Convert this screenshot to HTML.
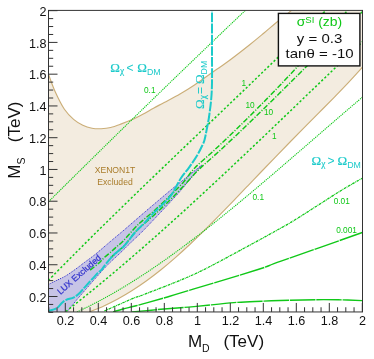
<!DOCTYPE html>
<html><head><meta charset="utf-8"><title>chart</title>
<style>
html,body{margin:0;padding:0;background:#fff;}
body{width:374px;height:359px;overflow:hidden;position:relative;font-family:"Liberation Sans",sans-serif;}
</style></head><body>
<svg width="374" height="359" viewBox="0 0 374 359" style="display:block;position:absolute;left:0;top:0;will-change:transform;opacity:0.999">
<rect x="0" y="0" width="374" height="359" fill="#fff"/>
<defs><clipPath id="fr"><rect x="48.50" y="10.40" width="314.00" height="301.55"/></clipPath></defs>
<g clip-path="url(#fr)">
<path d="M48.50,74.30 C49.62,77.22 52.55,85.97 55.20,91.80 C57.85,97.63 61.33,104.70 64.40,109.30 C67.47,113.90 70.53,116.73 73.60,119.40 C76.67,122.07 79.73,123.83 82.80,125.30 C85.87,126.77 88.93,127.63 92.00,128.20 C95.07,128.77 98.08,128.82 101.20,128.70 C104.32,128.58 107.33,128.30 110.70,127.50 C114.07,126.70 117.83,125.22 121.40,123.90 C124.97,122.58 128.53,121.22 132.10,119.60 C135.67,117.98 139.23,116.10 142.80,114.20 C146.37,112.30 149.93,110.15 153.50,108.20 C157.07,106.25 159.78,104.87 164.20,102.50 C168.62,100.13 174.95,96.92 180.00,94.00 C185.05,91.08 188.37,89.12 194.50,85.00 C200.63,80.88 210.88,73.47 216.80,69.30 C222.72,65.13 224.47,64.13 230.00,60.00 C235.53,55.87 244.33,49.00 250.00,44.50 C255.67,40.00 259.50,36.75 264.00,33.00 C268.50,29.25 272.33,25.83 277.00,22.00 C281.67,18.17 289.50,12.00 292.00,10.00 L362.50,10.40 L362.50,67.00 L362.50,67.17 C360.10,69.79 352.90,77.76 348.11,82.87 C343.31,87.97 338.51,92.89 333.71,97.81 C328.91,102.73 324.11,107.54 319.32,112.39 C314.52,117.24 309.72,122.05 304.92,126.90 C300.12,131.75 295.32,136.60 290.53,141.50 C285.73,146.40 280.93,151.33 276.13,156.28 C271.33,161.23 266.54,166.23 261.74,171.23 C256.94,176.23 252.14,181.27 247.34,186.28 C242.54,191.30 237.75,196.33 232.95,201.31 C228.15,206.29 223.35,211.27 218.55,216.16 C213.75,221.05 208.96,225.91 204.16,230.64 C199.36,235.37 194.56,240.03 189.76,244.53 C184.96,249.04 180.17,253.44 175.37,257.65 C170.57,261.87 165.77,265.94 160.97,269.81 C156.18,273.67 151.38,277.36 146.58,280.83 C141.78,284.30 136.98,287.56 132.18,290.60 C127.39,293.64 122.59,296.46 117.79,299.06 C112.99,301.65 108.19,304.02 103.39,306.19 C98.60,308.36 91.40,311.11 89.00,312.09 L48.50,311.95 Z" fill="#f3ece0" stroke="none"/>
<path d="M48.50,74.30 C49.62,77.22 52.55,85.97 55.20,91.80 C57.85,97.63 61.33,104.70 64.40,109.30 C67.47,113.90 70.53,116.73 73.60,119.40 C76.67,122.07 79.73,123.83 82.80,125.30 C85.87,126.77 88.93,127.63 92.00,128.20 C95.07,128.77 98.08,128.82 101.20,128.70 C104.32,128.58 107.33,128.30 110.70,127.50 C114.07,126.70 117.83,125.22 121.40,123.90 C124.97,122.58 128.53,121.22 132.10,119.60 C135.67,117.98 139.23,116.10 142.80,114.20 C146.37,112.30 149.93,110.15 153.50,108.20 C157.07,106.25 159.78,104.87 164.20,102.50 C168.62,100.13 174.95,96.92 180.00,94.00 C185.05,91.08 188.37,89.12 194.50,85.00 C200.63,80.88 210.88,73.47 216.80,69.30 C222.72,65.13 224.47,64.13 230.00,60.00 C235.53,55.87 244.33,49.00 250.00,44.50 C255.67,40.00 259.50,36.75 264.00,33.00 C268.50,29.25 272.33,25.83 277.00,22.00 C281.67,18.17 289.50,12.00 292.00,10.00" fill="none" stroke="#cbae78" stroke-width="1.15"/>
<path d="M362.50,67.17 C360.10,69.79 352.90,77.76 348.11,82.87 C343.31,87.97 338.51,92.89 333.71,97.81 C328.91,102.73 324.11,107.54 319.32,112.39 C314.52,117.24 309.72,122.05 304.92,126.90 C300.12,131.75 295.32,136.60 290.53,141.50 C285.73,146.40 280.93,151.33 276.13,156.28 C271.33,161.23 266.54,166.23 261.74,171.23 C256.94,176.23 252.14,181.27 247.34,186.28 C242.54,191.30 237.75,196.33 232.95,201.31 C228.15,206.29 223.35,211.27 218.55,216.16 C213.75,221.05 208.96,225.91 204.16,230.64 C199.36,235.37 194.56,240.03 189.76,244.53 C184.96,249.04 180.17,253.44 175.37,257.65 C170.57,261.87 165.77,265.94 160.97,269.81 C156.18,273.67 151.38,277.36 146.58,280.83 C141.78,284.30 136.98,287.56 132.18,290.60 C127.39,293.64 122.59,296.46 117.79,299.06 C112.99,301.65 108.19,304.02 103.39,306.19 C98.60,308.36 91.40,311.11 89.00,312.09" fill="none" stroke="#cbae78" stroke-width="1.15"/>
<path d="M48.50,284.40 C50.07,283.63 55.17,281.13 57.90,279.80 C60.63,278.47 62.57,277.73 64.90,276.40 C67.23,275.07 69.58,273.40 71.90,271.80 C74.22,270.20 76.78,268.30 78.80,266.80 C80.82,265.30 81.28,264.85 84.00,262.80 C86.72,260.75 91.38,257.47 95.10,254.50 C98.82,251.53 103.50,247.38 106.30,245.00 C109.10,242.62 108.92,242.72 111.90,240.20 C114.88,237.68 119.28,234.10 124.20,229.90 C129.12,225.70 133.77,221.53 141.40,215.00 C149.03,208.47 162.73,196.77 170.00,190.70 C177.27,184.63 179.72,182.87 185.00,178.60 C190.28,174.33 198.92,167.35 201.70,165.10 L201.70,165.10 C199.58,167.63 193.17,175.32 189.00,180.30 C184.83,185.28 184.03,186.92 176.70,195.00 C169.37,203.08 152.50,221.02 145.00,228.80 C137.50,236.58 135.80,237.70 131.70,241.70 C127.60,245.70 124.37,248.98 120.40,252.80 C116.43,256.62 112.32,260.07 107.90,264.60 C103.48,269.13 98.55,274.77 93.90,280.00 C89.25,285.23 82.98,292.55 80.00,296.00 C77.02,299.45 78.17,298.07 76.00,300.70 C73.83,303.33 68.50,309.95 67.00,311.80 L48.50,311.95 Z" fill="#c7c4e6" stroke="none"/>
<path d="M48.50,284.40 C50.07,283.63 55.17,281.13 57.90,279.80 C60.63,278.47 62.57,277.73 64.90,276.40 C67.23,275.07 69.58,273.40 71.90,271.80 C74.22,270.20 76.78,268.30 78.80,266.80 C80.82,265.30 81.28,264.85 84.00,262.80 C86.72,260.75 91.38,257.47 95.10,254.50 C98.82,251.53 103.50,247.38 106.30,245.00 C109.10,242.62 108.92,242.72 111.90,240.20 C114.88,237.68 119.28,234.10 124.20,229.90 C129.12,225.70 133.77,221.53 141.40,215.00 C149.03,208.47 162.73,196.77 170.00,190.70 C177.27,184.63 179.72,182.87 185.00,178.60 C190.28,174.33 198.92,167.35 201.70,165.10" fill="none" stroke="#3333cc" stroke-width="1" stroke-dasharray="1.1 1.0"/>
<path d="M201.70,165.10 C199.58,167.63 193.17,175.32 189.00,180.30 C184.83,185.28 184.03,186.92 176.70,195.00 C169.37,203.08 152.50,221.02 145.00,228.80 C137.50,236.58 135.80,237.70 131.70,241.70 C127.60,245.70 124.37,248.98 120.40,252.80 C116.43,256.62 112.32,260.07 107.90,264.60 C103.48,269.13 98.55,274.77 93.90,280.00 C89.25,285.23 82.98,292.55 80.00,296.00 C77.02,299.45 78.17,298.07 76.00,300.70 C73.83,303.33 68.50,309.95 67.00,311.80" fill="none" stroke="#3333cc" stroke-width="1" stroke-dasharray="1.1 1.0"/>
<path d="M48.50,201.78 C53.20,197.12 67.31,183.12 76.71,173.84 C86.12,164.55 95.52,155.30 104.93,146.07 C114.33,136.84 123.74,127.63 133.14,118.46 C142.55,109.29 151.95,100.14 161.36,91.02 C170.76,81.91 180.17,72.82 189.57,63.76 C198.98,54.69 208.38,45.66 217.79,36.66 C227.19,27.65 241.30,14.21 246.00,9.72" fill="none" stroke="#10c818" stroke-width="1.1" stroke-dasharray="1.2 0.9"/>
<path d="M77.00,312.00 C80.66,310.18 91.63,305.00 98.95,301.12 C106.26,297.24 113.58,293.08 120.89,288.73 C128.21,284.37 135.52,279.77 142.84,274.99 C150.15,270.21 157.47,265.20 164.78,260.05 C172.10,254.89 179.42,249.54 186.73,244.06 C194.05,238.59 201.36,232.94 208.68,227.19 C215.99,221.45 223.31,215.55 230.62,209.59 C237.94,203.62 245.25,197.54 252.57,191.40 C259.88,185.27 267.20,179.04 274.52,172.80 C281.83,166.55 289.15,160.23 296.46,153.92 C303.78,147.61 311.09,141.26 318.41,134.93 C325.72,128.61 333.04,122.27 340.35,115.99 C347.67,109.71 358.64,100.36 362.30,97.24" fill="none" stroke="#10c818" stroke-width="1.1" stroke-dasharray="1.2 0.9"/>
<path d="M48.50,280.30 C52.72,276.03 65.38,263.14 73.82,254.68 C82.26,246.22 90.70,237.85 99.14,229.53 C107.58,221.21 116.02,212.97 124.45,204.76 C132.89,196.55 141.33,188.40 149.77,180.27 C158.21,172.14 166.65,164.06 175.09,155.98 C183.53,147.90 191.97,139.86 200.41,131.80 C208.85,123.74 217.29,115.70 225.73,107.64 C234.17,99.57 242.61,91.50 251.05,83.40 C259.48,75.29 267.92,67.17 276.36,58.99 C284.80,50.82 293.24,42.61 301.68,34.34 C310.12,26.06 322.78,13.50 327.00,9.33" fill="none" stroke="#10c818" stroke-width="1.5" stroke-dasharray="2.2 2.1"/>
<path d="M66.00,311.40 C69.80,308.38 81.19,299.43 88.79,293.27 C96.39,287.11 103.99,280.82 111.58,274.45 C119.18,268.07 126.78,261.59 134.38,255.02 C141.97,248.45 149.57,241.78 157.17,235.04 C164.77,228.31 172.36,221.48 179.96,214.59 C187.56,207.71 195.16,200.74 202.75,193.73 C210.35,186.72 217.95,179.64 225.55,172.53 C233.14,165.41 240.74,158.24 248.34,151.05 C255.94,143.85 263.53,136.61 271.13,129.36 C278.73,122.11 286.33,114.82 293.92,107.54 C301.52,100.25 309.12,92.94 316.72,85.64 C324.31,78.34 331.91,71.03 339.51,63.74 C347.11,56.45 358.50,45.55 362.30,41.91" fill="none" stroke="#10c818" stroke-width="1.5" stroke-dasharray="2.2 2.1"/>
<path d="M90.10,270.10 C91.50,268.98 96.18,265.45 98.50,263.40 C100.82,261.35 101.77,259.85 104.00,257.80 C106.23,255.75 109.67,253.05 111.90,251.10 C114.13,249.15 115.55,247.75 117.40,246.10 C119.25,244.45 120.07,244.26 123.00,241.20 C125.93,238.14 131.73,231.16 135.00,227.72 C138.27,224.29 139.27,223.56 142.60,220.60 C145.93,217.64 150.43,214.12 155.00,209.99 C159.57,205.86 165.33,200.38 170.00,195.82 C174.67,191.26 178.83,187.32 183.00,182.64 C187.17,177.97 189.69,173.28 195.00,167.78 C200.31,162.28 208.25,155.80 214.88,149.64 C221.50,143.47 228.12,137.19 234.75,130.79 C241.38,124.39 248.00,117.87 254.62,111.24 C261.25,104.61 267.88,97.85 274.50,90.99 C281.12,84.12 287.75,77.13 294.38,70.03 C301.00,62.93 307.62,55.71 314.25,48.37 C320.88,41.04 327.50,33.59 334.12,26.02 C340.75,18.44 350.69,6.80 354.00,2.95" fill="none" stroke="#10c818" stroke-width="1.45" stroke-dasharray="5.4 1.6 1.1 1.6"/>
<path d="M110.70,257.60 C112.92,255.63 119.95,250.01 124.00,245.80 C128.05,241.59 131.50,236.13 135.00,232.32 C138.50,228.52 141.67,225.99 145.00,222.97 C148.33,219.95 150.83,218.02 155.00,214.19 C159.17,210.37 165.00,204.98 170.00,200.02 C175.00,195.06 180.08,189.62 185.00,184.44 C189.92,179.27 193.69,174.61 199.50,168.97 C205.31,163.33 213.07,156.85 219.85,150.61 C226.63,144.36 233.42,137.97 240.20,131.52 C246.98,125.07 253.77,118.50 260.55,111.89 C267.33,105.29 274.12,98.59 280.90,91.89 C287.68,85.20 294.47,78.44 301.25,71.71 C308.03,64.97 314.82,58.21 321.60,51.50 C328.38,44.79 335.17,38.08 341.95,31.46 C348.73,24.83 358.91,15.03 362.30,11.75" fill="none" stroke="#10c818" stroke-width="1.45" stroke-dasharray="5.4 1.6 1.1 1.6"/>
<path d="M104.30,311.00 C109.25,308.83 127.38,300.75 134.00,298.00 C140.62,295.25 135.00,298.00 144.00,294.50 C153.00,291.00 175.33,282.55 188.00,277.00 C200.67,271.45 204.50,269.37 220.00,261.20 C235.50,253.03 267.67,235.42 281.00,228.00 C294.33,220.58 290.17,222.83 300.00,216.70 C309.83,210.57 329.62,197.62 340.00,191.20 C350.38,184.78 358.58,180.37 362.30,178.20" fill="none" stroke="#10c818" stroke-width="1.25" stroke-dasharray="2.6 0.7 0.9 0.7"/>
<path d="M113.00,311.90 C114.67,311.42 119.50,309.93 123.00,309.00 C126.50,308.07 129.92,307.35 134.00,306.30 C138.08,305.25 141.67,304.33 147.50,302.70 C153.33,301.07 161.25,298.80 169.00,296.50 C176.75,294.20 179.17,293.40 194.00,288.90 C208.83,284.40 243.50,274.12 258.00,269.50 C272.50,264.88 263.62,267.37 281.00,261.20 C298.38,255.03 348.75,237.28 362.30,232.50" fill="none" stroke="#10c818" stroke-width="1.4" stroke-dasharray="25.5 0.9"/>
<path d="M132.00,312.00 C134.50,311.77 142.20,311.05 147.00,310.60 C151.80,310.15 152.97,309.97 160.80,309.30 C168.63,308.63 181.80,307.72 194.00,306.60 C206.20,305.48 222.67,303.50 234.00,302.60 C245.33,301.70 252.67,301.60 262.00,301.20 C271.33,300.80 281.00,300.45 290.00,300.20 C299.00,299.95 308.00,299.77 316.00,299.70 C324.00,299.63 330.28,299.65 338.00,299.80 C345.72,299.95 358.25,300.47 362.30,300.60" fill="none" stroke="#10c818" stroke-width="1.4" stroke-dasharray="25.5 0.9"/>
<path d="M212.00,10.50 C212.00,17.08 212.03,36.75 212.00,50.00 C211.97,63.25 212.25,79.17 211.80,90.00 C211.35,100.83 210.17,108.33 209.30,115.00 C208.43,121.67 207.40,125.83 206.60,130.00 C205.80,134.17 205.18,137.50 204.50,140.00 C203.82,142.50 203.68,142.50 202.50,145.00 C201.32,147.50 199.65,151.23 197.40,155.00 C195.15,158.77 191.78,163.68 189.00,167.60 C186.22,171.52 183.87,173.65 180.70,178.50 C177.53,183.35 174.28,191.21 170.00,196.72 C165.72,202.24 159.17,207.32 155.00,211.59 C150.83,215.87 148.33,218.88 145.00,222.37 C141.67,225.86 138.50,228.57 135.00,232.52 C131.50,236.48 127.48,242.44 124.00,246.10 C120.52,249.76 117.05,251.62 114.10,254.50 C111.15,257.38 108.40,260.83 106.30,263.40 C104.20,265.97 102.80,268.42 101.50,269.90 C100.20,271.38 100.07,270.75 98.50,272.30 C96.93,273.85 94.22,276.90 92.10,279.20 C89.98,281.50 87.78,283.90 85.80,286.10 C83.82,288.30 82.17,290.53 80.20,292.40 C78.23,294.27 76.32,296.07 74.00,297.30 C71.68,298.53 68.28,298.88 66.30,299.80 C64.32,300.72 63.73,301.37 62.10,302.80 C60.47,304.23 58.77,307.05 56.50,308.40 C54.23,309.75 49.83,310.48 48.50,310.90" fill="none" stroke="#1ccaca" stroke-width="2.0" stroke-dasharray="9.8 1.3" stroke-dashoffset="-2.2"/>
</g>
<rect x="48.50" y="10.40" width="314.00" height="301.55" fill="none" stroke="#333" stroke-width="1"/>
<path d="M48.80,311.95 v-4.70 M48.50,312.38 h4.70 M57.05,311.95 v-4.70 M48.50,304.44 h4.70 M65.30,311.95 v-9.00 M48.50,296.50 h9.00 M73.55,311.95 v-4.70 M48.50,288.56 h4.70 M81.80,311.95 v-4.70 M48.50,280.62 h4.70 M90.05,311.95 v-4.70 M48.50,272.68 h4.70 M98.30,311.95 v-9.00 M48.50,264.74 h9.00 M106.55,311.95 v-4.70 M48.50,256.80 h4.70 M114.80,311.95 v-4.70 M48.50,248.86 h4.70 M123.05,311.95 v-4.70 M48.50,240.92 h4.70 M131.30,311.95 v-9.00 M48.50,232.98 h9.00 M139.55,311.95 v-4.70 M48.50,225.04 h4.70 M147.80,311.95 v-4.70 M48.50,217.10 h4.70 M156.05,311.95 v-4.70 M48.50,209.16 h4.70 M164.30,311.95 v-9.00 M48.50,201.22 h9.00 M172.55,311.95 v-4.70 M48.50,193.28 h4.70 M180.80,311.95 v-4.70 M48.50,185.34 h4.70 M189.05,311.95 v-4.70 M48.50,177.40 h4.70 M197.30,311.95 v-9.00 M48.50,169.46 h9.00 M205.55,311.95 v-4.70 M48.50,161.52 h4.70 M213.80,311.95 v-4.70 M48.50,153.58 h4.70 M222.05,311.95 v-4.70 M48.50,145.64 h4.70 M230.30,311.95 v-9.00 M48.50,137.70 h9.00 M238.55,311.95 v-4.70 M48.50,129.76 h4.70 M246.80,311.95 v-4.70 M48.50,121.82 h4.70 M255.05,311.95 v-4.70 M48.50,113.88 h4.70 M263.30,311.95 v-9.00 M48.50,105.94 h9.00 M271.55,311.95 v-4.70 M48.50,98.00 h4.70 M279.80,311.95 v-4.70 M48.50,90.06 h4.70 M288.05,311.95 v-4.70 M48.50,82.12 h4.70 M296.30,311.95 v-9.00 M48.50,74.18 h9.00 M304.55,311.95 v-4.70 M48.50,66.24 h4.70 M312.80,311.95 v-4.70 M48.50,58.30 h4.70 M321.05,311.95 v-4.70 M48.50,50.36 h4.70 M329.30,311.95 v-9.00 M48.50,42.42 h9.00 M337.55,311.95 v-4.70 M48.50,34.48 h4.70 M345.80,311.95 v-4.70 M48.50,26.54 h4.70 M354.05,311.95 v-4.70 M48.50,18.60 h4.70 M362.30,311.95 v-9.00 M48.50,10.66 h9.00" stroke="#333" stroke-width="1" fill="none"/>
<text x="65.50" y="325.00" font-family="Liberation Sans, sans-serif" font-size="12.6" text-anchor="middle" fill="#111">0.2</text>
<text x="46.60" y="301.60" font-family="Liberation Sans, sans-serif" font-size="12.6" text-anchor="end" fill="#111">0.2</text>
<text x="98.50" y="325.00" font-family="Liberation Sans, sans-serif" font-size="12.6" text-anchor="middle" fill="#111">0.4</text>
<text x="46.60" y="269.84" font-family="Liberation Sans, sans-serif" font-size="12.6" text-anchor="end" fill="#111">0.4</text>
<text x="131.50" y="325.00" font-family="Liberation Sans, sans-serif" font-size="12.6" text-anchor="middle" fill="#111">0.6</text>
<text x="46.60" y="238.08" font-family="Liberation Sans, sans-serif" font-size="12.6" text-anchor="end" fill="#111">0.6</text>
<text x="164.50" y="325.00" font-family="Liberation Sans, sans-serif" font-size="12.6" text-anchor="middle" fill="#111">0.8</text>
<text x="46.60" y="206.32" font-family="Liberation Sans, sans-serif" font-size="12.6" text-anchor="end" fill="#111">0.8</text>
<text x="197.50" y="325.00" font-family="Liberation Sans, sans-serif" font-size="12.6" text-anchor="middle" fill="#111">1</text>
<text x="46.60" y="174.56" font-family="Liberation Sans, sans-serif" font-size="12.6" text-anchor="end" fill="#111">1</text>
<text x="230.50" y="325.00" font-family="Liberation Sans, sans-serif" font-size="12.6" text-anchor="middle" fill="#111">1.2</text>
<text x="46.60" y="142.80" font-family="Liberation Sans, sans-serif" font-size="12.6" text-anchor="end" fill="#111">1.2</text>
<text x="263.50" y="325.00" font-family="Liberation Sans, sans-serif" font-size="12.6" text-anchor="middle" fill="#111">1.4</text>
<text x="46.60" y="111.04" font-family="Liberation Sans, sans-serif" font-size="12.6" text-anchor="end" fill="#111">1.4</text>
<text x="296.50" y="325.00" font-family="Liberation Sans, sans-serif" font-size="12.6" text-anchor="middle" fill="#111">1.6</text>
<text x="46.60" y="79.28" font-family="Liberation Sans, sans-serif" font-size="12.6" text-anchor="end" fill="#111">1.6</text>
<text x="329.50" y="325.00" font-family="Liberation Sans, sans-serif" font-size="12.6" text-anchor="middle" fill="#111">1.8</text>
<text x="46.60" y="47.52" font-family="Liberation Sans, sans-serif" font-size="12.6" text-anchor="end" fill="#111">1.8</text>
<text x="362.50" y="325.00" font-family="Liberation Sans, sans-serif" font-size="12.6" text-anchor="middle" fill="#111">2</text>
<text x="46.60" y="15.76" font-family="Liberation Sans, sans-serif" font-size="12.6" text-anchor="end" fill="#111">2</text>
<text x="187.9" y="346.7" font-family="Liberation Sans, sans-serif" font-size="17" fill="#111">M<tspan font-size="10.5" dy="5.4">D</tspan><tspan dy="-5.4" dx="13.8">(TeV)</tspan></text>
<text transform="translate(19.6,178.7) rotate(-90)" font-family="Liberation Sans, sans-serif" font-size="17" fill="#111">M<tspan font-size="10.5" dy="5">S</tspan><tspan dy="-5" dx="15.3">(TeV)</tspan></text>
<text x="144.00" y="93.40" font-family="Liberation Sans, sans-serif" font-size="8.3" fill="#10c818" text-anchor="start">0.1</text>
<text x="241.50" y="85.50" font-family="Liberation Sans, sans-serif" font-size="8.3" fill="#10c818" text-anchor="start">1</text>
<text x="245.50" y="108.30" font-family="Liberation Sans, sans-serif" font-size="8.3" fill="#10c818" text-anchor="start">10</text>
<text x="264.00" y="115.00" font-family="Liberation Sans, sans-serif" font-size="8.3" fill="#10c818" text-anchor="start">10</text>
<text x="272.00" y="138.70" font-family="Liberation Sans, sans-serif" font-size="8.3" fill="#10c818" text-anchor="start">1</text>
<text x="252.50" y="200.00" font-family="Liberation Sans, sans-serif" font-size="8.3" fill="#10c818" text-anchor="start">0.1</text>
<text x="333.70" y="203.70" font-family="Liberation Sans, sans-serif" font-size="8.3" fill="#10c818" text-anchor="start">0.01</text>
<text x="336.20" y="233.00" font-family="Liberation Sans, sans-serif" font-size="8.3" fill="#10c818" text-anchor="start">0.001</text>
<text x="115" y="173" font-family="Liberation Sans, sans-serif" font-size="8.65" fill="#a97c2a" text-anchor="middle">XENON1T</text>
<text x="115" y="184.5" font-family="Liberation Sans, sans-serif" font-size="8.65" fill="#a97c2a" text-anchor="middle">Excluded</text>
<text transform="translate(60.4,295.0) rotate(-41.5)" font-family="Liberation Sans, sans-serif" font-size="8.7" fill="#3333cc" stroke="#3333cc" stroke-width="0.25">LUX Excluded</text>
<text x="110.20" y="72.10" font-family="Liberation Serif, serif" font-size="13" fill="#1ccaca" stroke="#1ccaca" stroke-width="0.15">Ω<tspan font-size="9.5" dy="2.2" dx="0.2">χ</tspan><tspan dy="-2.2" dx="2.3" font-family="Liberation Sans, sans-serif" font-size="12" stroke="none">&lt;</tspan><tspan dx="3.6">Ω</tspan><tspan font-family="Liberation Sans, sans-serif" font-size="8.8" dy="3.3" stroke="none">DM</tspan></text>
<text x="311.50" y="165.10" font-family="Liberation Serif, serif" font-size="13" fill="#1ccaca" stroke="#1ccaca" stroke-width="0.15">Ω<tspan font-size="9.5" dy="2.2" dx="0.2">χ</tspan><tspan dy="-2.2" dx="1.8" font-family="Liberation Sans, sans-serif" font-size="12" stroke="none">&gt;</tspan><tspan dx="3.2">Ω</tspan><tspan font-family="Liberation Sans, sans-serif" font-size="8.8" dy="3.3" stroke="none">DM</tspan></text>
<text transform="translate(203.60,109.00) rotate(-90)" font-family="Liberation Serif, serif" font-size="13" fill="#1ccaca" stroke="#1ccaca" stroke-width="0.15">Ω<tspan font-size="9.5" dy="2.2" dx="0.2">χ</tspan><tspan dy="-2.2" dx="1.0" font-family="Liberation Sans, sans-serif" font-size="12" stroke="none">=</tspan><tspan dx="2.8">Ω</tspan><tspan font-family="Liberation Sans, sans-serif" font-size="8.8" dy="3.3" stroke="none">DM</tspan></text>
<rect x="278.4" y="13.4" width="81.5" height="52.5" fill="#fff" stroke="#111" stroke-width="1.4"/>
<text x="319.4" y="26" font-family="Liberation Sans, sans-serif" font-size="12.8" fill="#10c818" text-anchor="middle" textLength="45.5" lengthAdjust="spacingAndGlyphs">σ<tspan font-size="8.8" dy="-3.5">SI</tspan><tspan dy="3.5"> (zb)</tspan></text>
<text x="319.6" y="43.4" font-family="Liberation Sans, sans-serif" font-size="12.8" fill="#111" text-anchor="middle" textLength="45.5" lengthAdjust="spacingAndGlyphs">y = 0.3</text>
<text x="319.6" y="58.4" font-family="Liberation Sans, sans-serif" font-size="12.8" fill="#111" text-anchor="middle" textLength="68" lengthAdjust="spacingAndGlyphs">tanθ = -10</text>
</svg>
</body></html>
